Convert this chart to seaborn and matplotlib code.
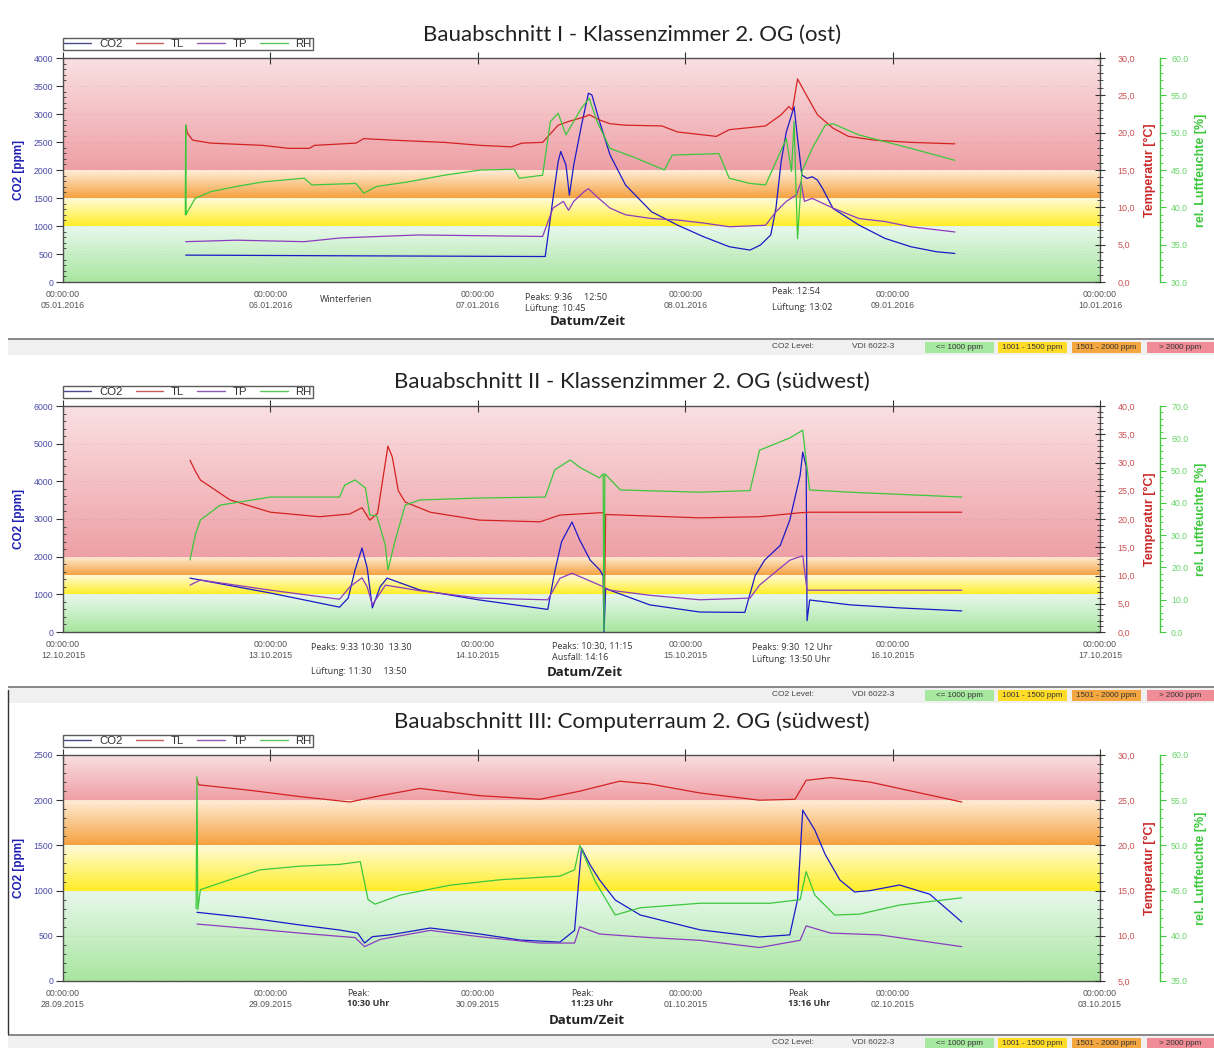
import numpy as np
import pandas as pd
import matplotlib
matplotlib.use("Agg")
import matplotlib.pyplot as plt
import seaborn as sns
from matplotlib.ticker import MultipleLocator, FuncFormatter
from matplotlib.lines import Line2D
from matplotlib.patches import Rectangle

# ---------------- data (hours since first date 00:00) ----------------
# Panel 1: Bauabschnitt I
p1_co2_t = [14.2, 29.1, 55.8, 56.7, 57.3, 57.6, 58.2, 58.6, 59.1, 60.0, 60.8, 61.2, 62.1, 63.3, 65.1, 68.1, 71.1, 74.1, 77.1,
            79.5, 80.7, 81.9, 82.5, 83.1, 83.7, 84.6, 85.0, 85.5, 86.1, 86.7, 87.3, 87.9, 89.1, 92.1, 95.1, 98.1, 101.1, 103.2]
p1_co2_v = [480, 470, 455, 1490, 2150, 2330, 2090, 1550, 2090, 2800, 3370, 3340, 2860, 2270, 1730, 1255, 1017, 810, 630,
            570, 660, 840, 1315, 2150, 2680, 3130, 2565, 1910, 1850, 1880, 1820, 1670, 1315, 1017, 780, 630, 540, 510]
p1_tl_t = [14.2, 14.4, 15.0, 17.1, 23.1, 26.1, 28.5, 29.1, 33.9, 34.8, 38.1, 44.1, 48.3, 51.9, 53.1, 55.5, 57.3, 58.5, 60.3,
           60.9, 62.1, 63.3, 65.1, 69.3, 71.1, 75.6, 77.1, 81.3, 83.1, 84.0, 84.4, 85.0, 85.8, 87.3, 89.1, 90.9, 93.9, 98.1, 103.2]
p1_tl_v = [21.0, 19.9, 19.0, 18.6, 18.3, 17.9, 17.9, 18.3, 18.6, 19.2, 19.0, 18.7, 18.3, 18.1, 18.6, 18.7, 21.0, 21.5, 22.1,
           22.4, 21.7, 21.2, 21.0, 20.9, 20.1, 19.5, 20.4, 20.9, 22.4, 23.5, 23.0, 27.2, 25.5, 22.4, 20.6, 19.5, 19.0, 18.7, 18.5]
p1_tp_t = [14.2, 20.1, 27.9, 32.1, 41.1, 55.5, 56.7, 57.9, 58.5, 59.1, 60.3, 60.8, 61.8, 63.3, 65.1, 68.1, 71.1, 74.1, 77.1,
           81.3, 82.5, 83.7, 84.9, 85.4, 85.8, 86.7, 89.1, 92.1, 95.1, 98.1, 103.2]
p1_tp_v = [5.4, 5.6, 5.4, 5.9, 6.3, 6.1, 9.9, 10.8, 9.6, 10.8, 12.1, 12.5, 11.4, 9.9, 9.0, 8.5, 8.3, 7.9, 7.4,
           7.6, 9.4, 10.8, 11.7, 13.4, 10.8, 11.2, 9.9, 8.5, 8.1, 7.4, 6.7]
p1_rh_t = [14.15, 14.2, 14.25, 14.4, 15.3, 17.1, 20.1, 23.1, 27.9, 28.8, 33.9, 34.8, 36.3, 39.9, 44.1, 48.3, 52.2, 52.8, 55.5,
           56.4, 57.3, 58.2, 59.1, 60.0, 60.9, 61.8, 63.3, 66.3, 69.6, 70.5, 75.9, 77.1, 79.5, 81.3, 82.5, 83.7, 84.3, 84.6,
           84.8, 85.0, 85.5, 86.7, 88.2, 89.1, 92.1, 98.1, 103.2]
p1_rh_v = [39.0, 51.0, 39.0, 39.4, 41.2, 42.1, 42.8, 43.4, 43.9, 43.0, 43.2, 41.9, 42.8, 43.4, 44.3, 45.0, 45.1, 43.9, 44.3,
           51.5, 52.6, 49.7, 51.5, 53.3, 54.6, 51.5, 47.9, 46.6, 45.0, 47.0, 47.2, 43.9, 43.2, 43.0, 46.1, 49.2, 44.8, 51.5,
           43.4, 35.8, 44.8, 47.9, 51.0, 51.2, 49.7, 47.9, 46.3]

# Panel 2: Bauabschnitt II
p2_co2_t = [14.7, 24.0, 32.0, 33.0, 33.8, 34.6, 35.2, 35.8, 36.7, 37.5, 41.3, 48.2, 56.1, 56.9, 57.7, 58.9, 59.8, 61.0, 62.1,
            62.5, 62.6, 62.8, 67.9, 73.7, 78.9, 80.1, 81.2, 83.0, 84.1, 85.3, 85.6, 86.0, 86.1, 86.4, 91.1, 96.8, 104.0]
p2_co2_v = [1430, 1035, 660, 900, 1650, 2230, 1700, 640, 1200, 1430, 1115, 850, 600, 1600, 2400, 2920, 2440, 1910, 1650,
            1500, 0, 1150, 720, 530, 520, 1500, 1910, 2300, 2970, 4160, 4775, 4400, 300, 850, 720, 640, 560]
p2_tl_t = [14.7, 15.3, 15.9, 19.3, 24.0, 29.7, 33.2, 34.6, 35.5, 36.4, 37.0, 37.6, 38.1, 38.8, 39.6, 42.5, 48.2, 55.2, 57.5,
           62.1, 62.6, 62.65, 62.8, 73.7, 80.6, 85.3, 86.4, 104.0]
p2_tl_v = [30.4, 28.5, 26.9, 23.4, 21.2, 20.4, 20.9, 22.0, 19.8, 21.0, 27.0, 32.9, 31.0, 25.0, 23.0, 21.2, 19.8, 19.5, 20.7,
           21.1, 21.1, 5.5, 20.8, 20.2, 20.4, 21.1, 21.2, 21.2]
p2_tp_t = [14.7, 15.9, 24.0, 32.0, 33.2, 34.6, 35.2, 35.8, 37.3, 41.3, 48.2, 56.1, 57.5, 58.9, 62.1, 63.3, 67.9, 73.7, 79.5,
           80.6, 84.1, 85.6, 86.1, 104.0]
p2_tp_v = [8.3, 9.2, 7.4, 5.8, 8.0, 9.6, 8.0, 4.8, 8.3, 7.3, 6.0, 5.7, 9.5, 10.4, 8.3, 7.4, 6.5, 5.7, 6.0,
           8.3, 12.7, 13.5, 7.4, 7.4]
p2_rh_t = [14.7, 15.3, 15.9, 18.2, 24.0, 32.0, 32.6, 33.8, 35.0, 35.5, 36.3, 37.3, 37.6, 38.4, 39.6, 41.3, 48.2, 55.8, 56.9,
           58.7, 59.8, 62.1, 62.5, 62.6, 62.7, 64.5, 73.7, 79.5, 80.6, 84.1, 85.6, 86.0, 86.4, 91.1, 104.0]
p2_rh_v = [22.3, 30.0, 34.7, 39.3, 41.8, 41.8, 45.5, 47.1, 44.6, 36.2, 36.0, 26.9, 19.2, 28.0, 39.3, 40.9, 41.5, 41.8, 50.2,
           53.3, 51.0, 47.7, 49.0, 0.5, 49.0, 44.0, 43.3, 43.8, 56.3, 60.1, 62.5, 53.0, 44.0, 43.3, 41.8]

# Panel 3: Bauabschnitt III
p3_co2_t = [15.5, 21.6, 27.4, 32.0, 34.1, 34.9, 35.8, 37.8, 42.5, 48.2, 52.9, 57.5, 59.2, 60.0, 61.0, 62.1, 63.9, 66.8, 73.7,
            80.6, 84.1, 85.0, 85.6, 87.0, 88.2, 89.9, 91.6, 93.4, 96.8, 100.3, 104.0]
p3_co2_v = [760, 697, 620, 564, 530, 420, 490, 510, 586, 520, 453, 430, 560, 1470, 1283, 1117, 896, 730, 566,
            487, 510, 900, 1890, 1670, 1400, 1117, 985, 1000, 1062, 960, 653]
p3_tl_t = [15.5, 15.7, 21.6, 27.4, 33.2, 36.7, 41.3, 48.2, 55.2, 59.8, 64.4, 67.9, 73.7, 80.6, 84.7, 86.0, 88.8, 93.4, 104.0]
p3_tl_v = [27.3, 26.7, 26.1, 25.4, 24.8, 25.5, 26.3, 25.5, 25.1, 26.0, 27.1, 26.8, 25.8, 25.0, 25.1, 27.2, 27.5, 27.0, 24.8]
p3_tp_t = [15.5, 21.6, 27.4, 33.8, 34.9, 36.7, 42.5, 48.2, 55.2, 59.2, 59.8, 62.1, 67.9, 73.7, 80.6, 85.3, 86.0, 88.8, 94.5, 104.0]
p3_tp_v = [11.3, 10.8, 10.3, 9.8, 8.8, 9.6, 10.6, 9.9, 9.2, 9.2, 11.0, 10.2, 9.8, 9.5, 8.7, 9.5, 11.1, 10.3, 10.1, 8.8]
p3_rh_t = [15.4, 15.5, 15.6, 15.9, 19.3, 22.8, 27.4, 32.0, 34.4, 35.3, 36.1, 39.0, 44.8, 50.6, 57.5, 59.2, 59.8, 61.6, 63.9,
           66.8, 73.7, 81.8, 85.3, 86.0, 87.0, 89.3, 92.2, 96.8, 104.0]
p3_rh_v = [43.0, 57.6, 42.9, 45.1, 46.2, 47.3, 47.7, 47.9, 48.2, 44.0, 43.5, 44.5, 45.6, 46.2, 46.6, 47.3, 50.0, 46.0, 42.3,
           43.1, 43.6, 43.6, 44.0, 47.1, 44.5, 42.3, 42.4, 43.4, 44.2]

titles = ["Bauabschnitt I - Klassenzimmer 2. OG (ost)",
          "Bauabschnitt II - Klassenzimmer 2. OG (südwest)",
          "Bauabschnitt III: Computerraum 2. OG (südwest)"]
dates1 = ["05.01.2016", "06.01.2016", "07.01.2016", "08.01.2016", "09.01.2016", "10.01.2016"]
dates2 = ["12.10.2015", "13.10.2015", "14.10.2015", "15.10.2015", "16.10.2015", "17.10.2015"]
dates3 = ["28.09.2015", "29.09.2015", "30.09.2015", "01.10.2015", "02.10.2015", "03.10.2015"]
series_names = ["CO2", "TL", "TP", "RH"]
level_labels = ["<= 1000 ppm", "1001 - 1500 ppm", "1501 - 2000 ppm", "> 2000 ppm"]
co2_levels = [0, 1000, 1500, 2000]

notes1 = [(320, 300, "Winterferien", "normal"), (525, 297, "Peaks: 9:36     12:50", "normal"),
          (525, 309, "Lüftung: 10:45", "normal"), (772, 292, "Peak: 12:54", "normal"),
          (772, 307, "Lüftung: 13:02", "normal")]
notes2 = [(311, 648, "Peaks: 9:33 10:30  13.30", "normal"), (311, 671, "Lüftung: 11:30     13:50", "normal"),
          (552, 647, "Peaks: 10:30, 11:15", "normal"), (552, 658, "Ausfall: 14:16", "normal"),
          (752, 647, "Peaks: 9:30  12 Uhr", "normal"), (752, 659, "Lüftung: 13:50 Uhr", "normal")]
notes3 = [(347, 993, "Peak:", "normal"), (347, 1004, "10:30 Uhr", "bold"),
          (571, 993, "Peak:", "normal"), (571, 1004, "11:23 Uhr", "bold"),
          (788, 993, "Peak", "normal"), (788, 1004, "13:16 Uhr", "bold")]

# ---------------- styling ----------------
W, H = 1214, 1048
sns.set_style("white")
plt.rcParams['font.family'] = ['Liberation Sans', 'DejaVu Sans']

C_CO2, C_TL, C_TP, C_RH = "#1a1ac8", "#d42222", "#8c3cc0", "#3cc83c"
band_cols = [((232, 248, 236), (168, 230, 160)),   # green (top, bottom)
             ((255, 251, 218), (255, 238, 40)),    # yellow
             ((255, 238, 218), (245, 162, 64)),    # orange
             ((250, 224, 226), (238, 160, 166))]   # red
box_cols = ["#a6e8a0", "#ffdc28", "#f4a640", "#f08c96"]

fig = plt.figure(figsize=(W / 100, H / 100), dpi=100)
fig.patch.set_facecolor("white")


def fx(x):
    return x / W


def fy(y):
    return 1 - y / H


def gradient_band(ax, lo, hi, top, bot, xmax):
    t = np.linspace(0, 1, 80)[:, None]
    img = np.array(top) / 255 * (1 - t) + np.array(bot) / 255 * t
    ax.imshow(img[:, None, :], extent=[0, xmax, lo, hi], origin="upper",
              aspect="auto", zorder=0, interpolation="bilinear")


panels = [
    dict(y0=58, y1=282, co2=(0, 4000, 500, 100), tl=(0, 30), rh=(30, 60, 5, 1), dates=dates1, notes=notes1,
         data=[(p1_co2_t, p1_co2_v), (p1_tl_t, p1_tl_v), (p1_tp_t, p1_tp_v), (p1_rh_t, p1_rh_v)],
         title_y=35, dz=(588, 322), bar=338),
    dict(y0=406, y1=632, co2=(0, 6000, 1000, 200), tl=(0, 40), rh=(0, 70, 10, 2), dates=dates2, notes=notes2,
         data=[(p2_co2_t, p2_co2_v), (p2_tl_t, p2_tl_v), (p2_tp_t, p2_tp_v), (p2_rh_t, p2_rh_v)],
         title_y=382, dz=(585, 672), bar=686),
    dict(y0=755, y1=981, co2=(0, 2500, 500, 100), tl=(5, 30), rh=(35, 60, 5, 1), dates=dates3, notes=notes3,
         data=[(p3_co2_t, p3_co2_v), (p3_tl_t, p3_tl_v), (p3_tp_t, p3_tp_v), (p3_rh_t, p3_rh_v)],
         title_y=722, dz=(587, 1020), bar=1034),
]

X0, X1 = 63, 1100
XMAX = 120
spine_c = "#505050"

for i, P in enumerate(panels):
    ax = fig.add_axes([fx(X0), fy(P["y1"]), (X1 - X0) / W, (P["y1"] - P["y0"]) / H])
    lo, hi, maj, mnr = P["co2"]
    edges = co2_levels + [hi]
    for k in range(4):
        gradient_band(ax, edges[k], edges[k + 1], band_cols[k][0], band_cols[k][1], XMAX)
    ax.set_xlim(0, XMAX)
    ax.set_ylim(lo, hi)
    ax.yaxis.set_major_locator(MultipleLocator(maj))
    ax.yaxis.set_minor_locator(MultipleLocator(mnr))
    ax.xaxis.set_minor_locator(MultipleLocator(6))
    ax.set_xticks(np.arange(0, 121, 24))
    ax.set_xticklabels(["00:00:00\n" + d for d in P["dates"]])
    ax.tick_params(axis="x", which="major", direction="inout", length=8, width=0.8, color="#333",
                   labelsize=6.3, labelcolor="#555", pad=2, top=True)
    ax.tick_params(axis="x", which="minor", direction="in", length=4, width=0.7, color="#333", top=False)
    ax.tick_params(axis="y", which="major", direction="out", length=5, width=0.8, color="#333",
                   labelsize=6.3, labelcolor="#4a4aa8", pad=2, left=True)
    ax.tick_params(axis="y", which="minor", direction="in", length=2.5, width=0.6, color="#333", left=True)
    ax.grid(axis="y", which="major", ls=(0, (1, 3)), color="#000000", alpha=0.12, lw=0.6)
    for s in ax.spines.values():
        s.set_color(spine_c)
        s.set_linewidth(1.0)
        s.set_visible(True)

    t_co2, v_co2 = P["data"][0]
    sns.lineplot(x=t_co2, y=v_co2, ax=ax, color=C_CO2, lw=0.9, estimator=None, sort=False, errorbar=None, zorder=3)
    ax.set_xlabel("")
    ax.set_ylabel("")

    # temperature axis
    axt = ax.twinx()
    axt.set_ylim(*P["tl"])
    axt.set_xlim(0, XMAX)
    axt.yaxis.set_major_locator(MultipleLocator(5))
    axt.yaxis.set_minor_locator(MultipleLocator(1))
    axt.yaxis.set_major_formatter(FuncFormatter(lambda v, p: f"{v:.1f}".replace(".", ",")))
    axt.tick_params(axis="y", which="major", direction="inout", length=7, width=0.8, color="#333",
                    labelsize=6.5, labelcolor="#c85050", pad=9, right=True)
    axt.tick_params(axis="y", which="minor", direction="inout", length=4, width=0.6, color="#333", right=True)
    for s in axt.spines.values():
        s.set_visible(False)
    t_tl, v_tl = P["data"][1]
    t_tp, v_tp = P["data"][2]
    sns.lineplot(x=t_tp, y=v_tp, ax=axt, color=C_TP, lw=0.9, estimator=None, sort=False, errorbar=None)
    sns.lineplot(x=t_tl, y=v_tl, ax=axt, color=C_TL, lw=0.9, estimator=None, sort=False, errorbar=None)
    axt.set_ylabel("")
    axt.set_xlabel("")

    # humidity axis
    axr = ax.twinx()
    rlo, rhi, rmaj, rmin = P["rh"]
    axr.set_ylim(rlo, rhi)
    axr.set_xlim(0, XMAX)
    for s in axr.spines.values():
        s.set_visible(False)
    axr.spines["right"].set_visible(True)
    axr.spines["right"].set_position(("axes", (1160 - X0) / (X1 - X0)))
    axr.spines["right"].set_color("#46c846")
    axr.spines["right"].set_linewidth(1.0)
    axr.yaxis.set_major_locator(MultipleLocator(rmaj))
    axr.yaxis.set_minor_locator(MultipleLocator(rmin))
    axr.yaxis.set_major_formatter(FuncFormatter(lambda v, p: f"{v:.1f}"))
    axr.tick_params(axis="y", which="major", direction="out", length=4, width=0.8, color="#46c846",
                    labelsize=6.3, labelcolor="#6ad46a", pad=4, right=True)
    axr.tick_params(axis="y", which="minor", direction="out", length=2, width=0.6, color="#46c846", right=True)
    t_rh, v_rh = P["data"][3]
    sns.lineplot(x=t_rh, y=v_rh, ax=axr, color=C_RH, lw=0.9, estimator=None, sort=False, errorbar=None)
    axr.set_ylabel("")
    axr.set_xlabel("")

    # legend
    handles = [Line2D([], [], color=c, lw=1.0) for c in ["#4a4a8c", "#c85a5a", "#8c5ab4", "#5ac85a"]]
    leg = axr.legend(handles, series_names, loc="lower left", bbox_to_anchor=(0, 1.035), ncol=4, frameon=True,
                     fancybox=False, edgecolor="#333333", fontsize=8.2, handlelength=2.4, handletextpad=0.7,
                     columnspacing=1.15, borderpad=0.08, borderaxespad=0)
    leg.get_frame().set_linewidth(1.0)
    for txt in leg.get_texts():
        txt.set_color("#333333")

    # title
    fig.text(fx(632), fy(P["title_y"]), titles[i], ha="center", va="center", fontsize=16,
             family=["Lato", "DejaVu Sans"], color="#222222")
    # axis labels
    yc = (P["y0"] + P["y1"]) / 2
    fig.text(fx(19), fy(yc), "CO2 [ppm]", rotation=90, ha="center", va="center", fontsize=8.5,
             fontweight="bold", color="#2020b4")
    fig.text(fx(1150), fy(yc), "Temperatur [°C]", rotation=90, ha="center", va="center", fontsize=9,
             fontweight="bold", color="#cc2a2a")
    fig.text(fx(1201), fy(yc), "rel. Luftfeuchte [%]", rotation=90, ha="center", va="center", fontsize=9,
             fontweight="bold", color="#3cc83c")
    fig.text(fx(P["dz"][0]), fy(P["dz"][1]), "Datum/Zeit", ha="center", va="center", fontsize=9.5,
             fontweight="bold", color="#222222", family=["Open Sans", "DejaVu Sans"])
    for (x, y, s, w) in P["notes"]:
        fig.text(fx(x), fy(y), s, ha="left", va="center", fontsize=6.5, fontweight=w, color="#333333",
                 family=["Open Sans", "DejaVu Sans"])

    # status bar
    b = P["bar"]
    fig.patches.append(Rectangle((fx(8), fy(b + 17)), (W - 8) / W, 17 / H, transform=fig.transFigure,
                                 facecolor="#f0f0f0", edgecolor="none", zorder=0))
    fig.patches.append(Rectangle((fx(8), fy(b + 1.5)), (W - 8) / W, 1.8 / H, transform=fig.transFigure,
                                 facecolor="#8a8a8a", edgecolor="none", zorder=1))
    fig.text(fx(772), fy(b + 9), "CO2 Level:", ha="left", va="center", fontsize=6, color="#444")
    fig.text(fx(852), fy(b + 9), "VDI 6022-3", ha="left", va="center", fontsize=6, color="#444")
    boxes = [(925, 994), (998, 1067), (1072, 1141), (1147, 1214)]
    for (bx0, bx1), col, lab in zip(boxes, box_cols, level_labels):
        fig.patches.append(Rectangle((fx(bx0), fy(b + 15)), (bx1 - bx0) / W, 11 / H, transform=fig.transFigure,
                                     facecolor=col, edgecolor="none", zorder=1))
        fig.text(fx((bx0 + bx1) / 2), fy(b + 9.5), lab, ha="center", va="center", fontsize=5.8, color="#333")

# left border line of the third panel frame
fig.add_artist(Line2D([fx(8), fx(8)], [fy(690), fy(1034)], transform=fig.transFigure, color="#333", lw=1.0))

fig.savefig("out.png", dpi=100)
